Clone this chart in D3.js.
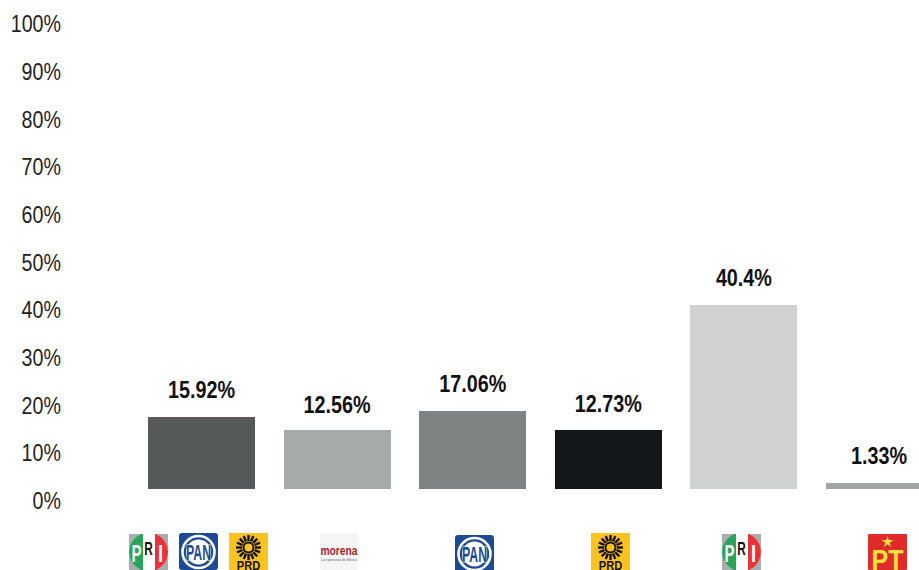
<!DOCTYPE html>
<html><head><meta charset="utf-8">
<script src="https://cdn.jsdelivr.net/npm/d3@7/dist/d3.min.js"></script>
<style>html,body{margin:0;padding:0;background:#fff;overflow:hidden}svg{display:block}
text{font-family:"Liberation Sans",Arial,sans-serif}</style>
</head><body><svg id="c" width="919" height="570"></svg>
<script>
const categories = ["PRI-PAN-PRD","Morena","PAN","PRD","PRI","PT"];
const printedValues = [15.92,12.56,17.06,12.73,40.4,1.33];      // the numbers printed above the bars
const barLengths = [15.9,13,17.1,13,40.4,1.33];                  // the bars as drawn in the picture
const valueLabels = ["15.92%","12.56%","17.06%","12.73%","40.4%","1.33%"];
const barColors = ["#565a5b","#a7abaa","#7e8282","#14181a","#d0d2d1","#a3a5a4"];
const tickValues = [0,10,20,30,40,50,60,70,80,90,100];
const categoryLogos = [["PRI","PAN","PRD"],["Morena"],["PAN"],["PRD"],["PRI"],["PT"]];

const svg = d3.select("#c");
const x = d3.scaleBand().domain(categories).range([148,933]).paddingInner(1-107/135.6).paddingOuter(0);
const yBar = d3.scaleLinear().domain([0,100]).range([489,34]);
const yTick = d3.scaleLinear().domain([0,100]).range([501,24]);

// axis labels (the reference's label ladder is offset from the bars' baseline)
const axis = d3.axisLeft(yTick).tickValues(tickValues).tickFormat(d=>d+"%").tickSize(0).tickPadding(0);
const ag = svg.append("g").attr("transform","translate(61,0)").call(axis);
ag.select(".domain").remove();
ag.selectAll("text").attr("font-size",24).attr("fill","#222")
  .style("font-family",'"Liberation Sans",Arial,sans-serif').attr("transform","scale(.82,1)");

// bars
svg.selectAll("rect.bar").data(barLengths).join("rect").attr("class","bar")
  .attr("x",(d,i)=>Math.round(x(categories[i]))).attr("y",d=>Math.round(yBar(d))).attr("width",x.bandwidth())
  .attr("height",d=>489-Math.round(yBar(d))).attr("fill",(d,i)=>barColors[i]);

const labelX = (d,i)=>Math.min(x(categories[i])+x.bandwidth()/2, 879);
svg.selectAll("text.val").data(printedValues).join("text").attr("class","val")
  .attr("transform",(d,i)=>`translate(${labelX(d,i)},${yBar(d)-19}) scale(.86,1)`)
  .attr("text-anchor","middle").attr("font-size",23).attr("font-weight",700).attr("fill","#111")
  .text((d,i)=>valueLabels[i]);

// logos
const S = 39;
let clipId = 0;
function narrowText(g,t,cx,y,size,sx,fill){
  return g.append("text").attr("transform",`translate(${cx},${y}) scale(${sx},1)`).attr("text-anchor","middle")
    .attr("font-size",size).attr("font-weight",700).attr("fill",fill).text(t);
}
function logoPRI(g){
  g.append("rect").attr("width",S).attr("height",36).attr("fill","#aaadaf");
  g.append("circle").attr("cx",19.5).attr("cy",18).attr("r",19.5).attr("fill","#fff");
  const clip = "priclip"+(clipId++);
  g.append("clipPath").attr("id",clip).append("circle").attr("cx",19.5).attr("cy",18).attr("r",19.5);
  g.append("rect").attr("width",14).attr("height",36).attr("fill","#2aa45a").attr("clip-path",`url(#${clip})`);
  g.append("rect").attr("x",26).attr("width",13).attr("height",36).attr("fill","#ea3239").attr("clip-path",`url(#${clip})`);
  narrowText(g,"P",7.5,28,23,.65,"#fff");
  narrowText(g,"R",19.5,21,19,.62,"#111");
  narrowText(g,"I",31.5,28,23,.8,"#fff");
}
function logoPAN(g){
  g.append("rect").attr("width",S).attr("height",37).attr("rx",3).attr("fill","#1d4a94");
  g.append("circle").attr("cx",19.5).attr("cy",19).attr("r",16).attr("fill","none").attr("stroke","#fff").attr("stroke-width",2.6);
  g.append("circle").attr("cx",19.5).attr("cy",19).attr("r",12.5).attr("fill","#fff");
  narrowText(g,"PAN",19.5,27,22,.56,"#1d4a94").attr("stroke","#fff").attr("stroke-width",1.2).attr("paint-order","stroke");
}
function logoPRD(g){
  g.append("rect").attr("width",S).attr("height",37).attr("fill","#fcc21e");
  const rays = d3.range(16).map(i=>i*22.5);
  g.selectAll("line.ray").data(rays).join("line").attr("class","ray")
   .attr("x1",19.5).attr("y1",2).attr("x2",19.5).attr("y2",8)
   .attr("stroke","#111").attr("stroke-width",2.4)
   .attr("transform",d=>`rotate(${d} 19.5 14.5)`);
  g.append("circle").attr("cx",19.5).attr("cy",14.5).attr("r",5).attr("fill","none").attr("stroke","#111").attr("stroke-width",2);
  narrowText(g,"PRD",19.5,37,13,.85,"#111");
}
function logoMorena(g){
  g.append("rect").attr("width",38).attr("height",37).attr("rx",2).attr("fill","#f6f5f5");
  g.append("text").attr("x",19).attr("y",21.5).attr("text-anchor","middle").attr("font-size",13).attr("font-weight",700).attr("fill","#a5262c")
   .attr("textLength",37).attr("lengthAdjust","spacingAndGlyphs").text("morena");
  g.append("text").attr("x",19).attr("y",28).attr("text-anchor","middle").attr("font-size",4).attr("fill","#666")
   .attr("textLength",36).attr("lengthAdjust","spacingAndGlyphs").text("La esperanza de México");
}
function logoPT(g){
  g.append("rect").attr("width",S).attr("height",36).attr("rx",1).attr("fill","#e12b2b");
  g.append("path").attr("d",d3.symbol(d3.symbolStar,42)()).attr("transform","translate(19.5,8)").attr("fill","#f2e23a");
  narrowText(g,"PT",19.5,36,30,1,"#f2e23a").attr("textLength",32).attr("lengthAdjust","spacingAndGlyphs");
}
const drawers = {PRI:logoPRI,PAN:logoPAN,PRD:logoPRD,Morena:logoMorena,PT:logoPT};
const logoTops = {PRI:534,PAN:533,PRD:533,Morena:533,PT:534};
const logoLeft = [[129,179,229],[320],[455],[591],[722],[868]];
categoryLogos.forEach((list,i)=>list.forEach((name,j)=>{
  const top = (i===2 ? 535 : logoTops[name]);
  drawers[name](svg.append("g").attr("class","logo").attr("transform",`translate(${logoLeft[i][j]},${top})`));
}));
</script></body></html>
